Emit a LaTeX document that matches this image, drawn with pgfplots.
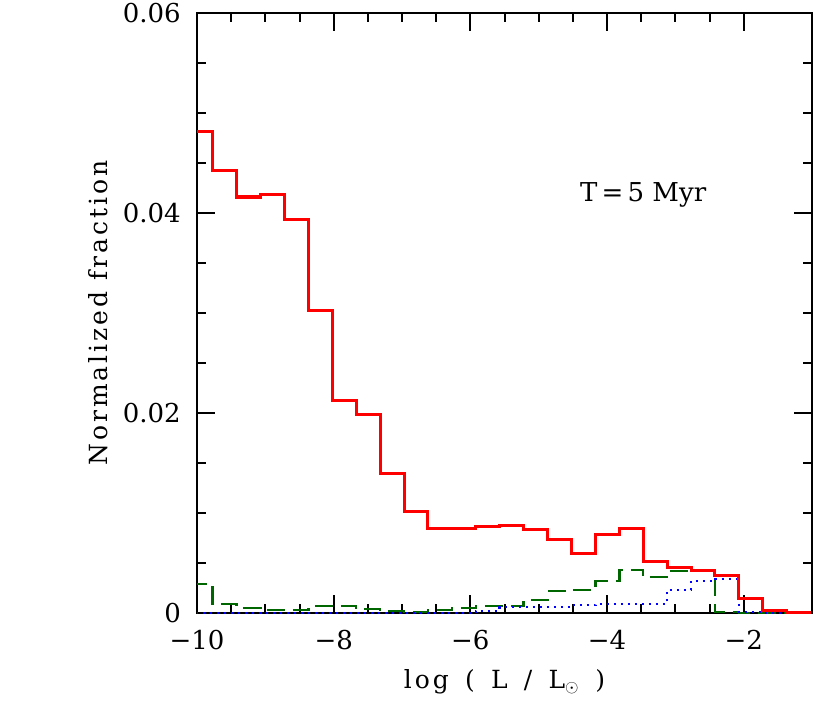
\documentclass[border=0pt]{standalone}
\usepackage{pgfplots}
\pgfplotsset{compat=1.18}
\usepackage{fontspec}
\setmainfont{DejaVu Serif}
\newfontfamily\spacedfont[LetterSpace=12]{DejaVu Serif}

% histogram bins: left edges, width 0.35
\pgfplotstableread{
x       red     green   blue
-10.12  0.0481  0.0029  0.0000
-9.77   0.0442  0.0009  0.0000
-9.42   0.0416  0.0005  0.0000
-9.07   0.0418  0.0003  0.0000
-8.72   0.0394  0.0003  0.0000
-8.37   0.0303  0.0007  0.0000
-8.02   0.0213  0.0007  0.0000
-7.67   0.0199  0.0004  0.0000
-7.32   0.0140  0.0002  0.0000
-6.97   0.0102  0.0001  0.0000
-6.62   0.0085  0.0003  0.0000
-6.27   0.0085  0.0005  0.0000
-5.92   0.0087  0.0007  0.0002
-5.57   0.0088  0.0007  0.0006
-5.22   0.0084  0.0013  0.0006
-4.87   0.0074  0.0022  0.0006
-4.52   0.0060  0.0023  0.0008
-4.17   0.0079  0.0032  0.0009
-3.82   0.0085  0.0043  0.0009
-3.47   0.0052  0.0036  0.0009
-3.12   0.0046  0.0042  0.0023
-2.77   0.0043  0.0042  0.0032
-2.42   0.0038  0.0001  0.0034
-2.07   0.0015  0.0000  0.0001
-1.72   0.0003  0.0000  0.0000
-1.37   0.0001  0.0000  0.0000
-1.02   0.0001  0.0000  0.0000
}\lumtable

\newcommand{\gap}{\hspace{0.65em}}

\begin{document}
\begin{tikzpicture}
\begin{axis}[
    name=main,
    scale only axis,
    width=615pt, height=600pt,
    xmin=-10, xmax=-1, ymin=0, ymax=0.06,
    xtick={-10,-8,-6,-4,-2},
    xticklabels={−10,−8,−6,−4,−2},
    ytick={0,0.02,0.04,0.06},
    yticklabels={0,0.02,0.04,0.06},
    minor x tick num=3, minor y tick num=3,
    tick align=inside, tick pos=both,
    major tick length=18pt, minor tick length=9pt,
    axis line style={line width=2pt},
    tick style={black, line width=2pt},
    ticklabel style={font=\fontsize{26}{30}\selectfont},
    xticklabel style={anchor=base, yshift=-36pt},
    yticklabel style={anchor=east, inner sep=0pt, xshift=-16pt},
    xlabel={\spacedfont log\gap(\gap L\gap/\gap L$_{\odot}$\gap)},
    ylabel={\spacedfont Normalized fraction},
    label style={font=\fontsize{25}{30}\selectfont},
    xlabel style={at={(axis description cs:0.5,-0.115)}, anchor=center},
    ylabel style={at={(axis description cs:-0.161,0.5)}, anchor=center},
]
\addplot[const plot mark left, color=green!40!black, line width=2.5pt,
         dash pattern=on 18pt off 8pt] table[x=x, y=green] {\lumtable};
\addplot[const plot mark left, color=blue, line width=2.5pt,
         dash pattern=on 2pt off 5pt] table[x=x, y=blue] {\lumtable};
\addplot[const plot mark left, color=red, line width=3pt] table[x=x, y=red] {\lumtable};
\node[font=\fontsize{26}{30}\selectfont] at (axis cs:-3.47,0.0418) {T$\,$=$\,$5 Myr};
\end{axis}
\pgfresetboundingbox
\path[use as bounding box] ([xshift=-197pt,yshift=-105pt]main.south west)
    rectangle ([xshift=2pt,yshift=13pt]main.north east);
\end{tikzpicture}
\end{document}
